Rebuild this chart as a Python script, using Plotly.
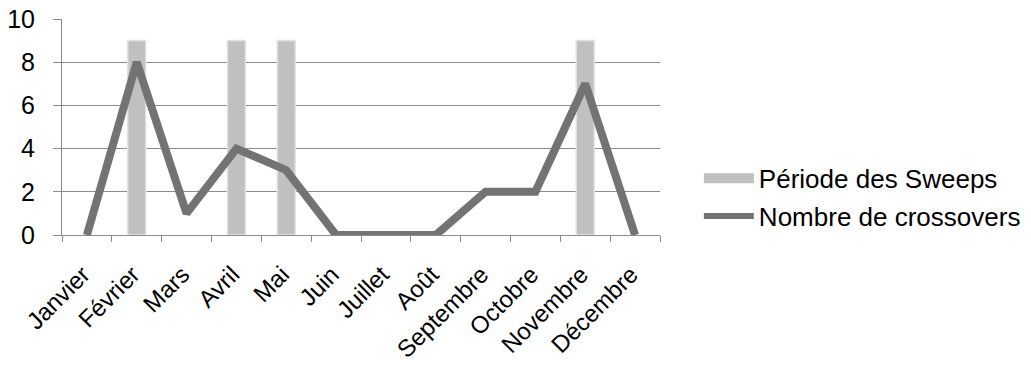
import plotly.graph_objects as go

months = ["Janvier", "Février", "Mars", "Avril", "Mai", "Juin", "Juillet",
          "Août", "Septembre", "Octobre", "Novembre", "Décembre"]
sweeps = [None, 9, None, 9, 9, None, None, None, None, None, 9, None]
crossovers = [0, 8, 1, 4, 3, 0, 0, 0, 2, 2, 7, 0]

BAR_COLOR = "#c0c0c0"
LINE_COLOR = "#737373"
GRID = "#8c8c8c"
FONT = "Liberation Sans, Arial, sans-serif"

fig = go.Figure()
fig.add_trace(go.Bar(
    x=months, y=sweeps, name="Période des Sweeps", width=0.36,
    marker=dict(color=BAR_COLOR, line=dict(color="#e2e2e2", width=1.5)),
    showlegend=False, legendgroup="a",
))
fig.add_trace(go.Scatter(
    x=months, y=crossovers, mode="lines", name="Nombre de crossovers",
    line=dict(color=LINE_COLOR, width=8), showlegend=False, legendgroup="b",
))
# legend entries
fig.add_trace(go.Scatter(
    x=[None], y=[None], mode="lines", name="Période des Sweeps",
    line=dict(color=BAR_COLOR, width=12), legendgroup="a",
))
fig.add_trace(go.Scatter(
    x=[None], y=[None], mode="lines", name="Nombre de crossovers",
    line=dict(color=LINE_COLOR, width=6), legendgroup="b",
))

fig.update_layout(
    width=1031, height=369,
    margin=dict(l=62, r=371, t=19, b=134, autoexpand=False),
    paper_bgcolor="white", plot_bgcolor="white",
    font=dict(family=FONT, size=24, color="black"),
    showlegend=True,
    legend=dict(x=1.065, y=0.174, xanchor="left", yanchor="middle",
                font=dict(size=26), tracegroupgap=1, traceorder="grouped",
                itemwidth=50),
)
fig.update_xaxes(
    type="category", categoryorder="array", categoryarray=months,
    tickangle=-45, tickson="boundaries", ticks="outside", ticklen=6,
    tickcolor=GRID, showline=True, linecolor=GRID, linewidth=1,
    showgrid=False, tickfont=dict(size=24), automargin=False,
    ticklabelstandoff=15, ticklabelshift=-4,
)
fig.update_yaxes(
    range=[0, 10], dtick=2, ticks="outside", ticklen=8, tickcolor=GRID,
    showgrid=True, gridcolor=GRID, gridwidth=1,
    showline=True, linecolor=GRID, linewidth=1, zeroline=False,
    tickfont=dict(size=25), automargin=False, ticklabelstandoff=13,
)

fig.write_html("out.html", config={"displayModeBar": False},
               post_script="document.body.style.margin='0px';document.body.style.overflow='hidden';")
